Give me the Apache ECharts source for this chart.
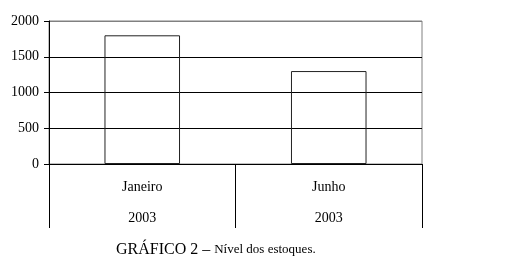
<!DOCTYPE html>
<html>
<head>
<meta charset="utf-8">
<script src="https://cdn.jsdelivr.net/npm/echarts@6/dist/echarts.min.js"></script>
<style>
html,body{margin:0;padding:0;background:#fff;}
#chart{width:515px;height:263px;}
</style>
</head>
<body>
<div id="chart"></div>
<script>
var months = ['Janeiro', 'Junho'];
var years = ['2003', '2003'];
var stockLevels = [1800, 1300];
var yMin = 0, yMax = 2000, yStep = 500;
var captionMain = 'GRÁFICO 2 – ';
var captionSub = 'Nível dos estoques.';

var serif = 'Liberation Serif, Times New Roman, serif';
var chart = echarts.init(document.getElementById('chart'), null, {renderer: 'canvas'});
var categories = months.map(function (m, i) { return m + '\n' + years[i]; });

chart.setOption({
  animation: false,
  backgroundColor: '#fff',
  title: {
    left: 116,
    top: 240,
    padding: 0,
    text: '{a|' + captionMain + '}{b|' + captionSub + '}',
    textStyle: {
      fontWeight: 'normal',
      rich: {
        a: {fontFamily: serif, fontSize: 16, fontWeight: 'normal', color: '#000', lineHeight: 20},
        b: {fontFamily: serif, fontSize: 13, fontWeight: 'normal', color: '#000', lineHeight: 20}
      }
    }
  },
  grid: {
    left: 49, right: 93, top: 21, bottom: 99,
    show: true, borderColor: '#808080', borderWidth: 1, backgroundColor: 'transparent'
  },
  xAxis: {
    type: 'category',
    data: categories,
    boundaryGap: true,
    axisLine: {show: true, lineStyle: {color: '#000', width: 1}},
    axisTick: {show: true, inside: false, length: 64, alignWithLabel: false, lineStyle: {color: '#000', width: 1}},
    axisLabel: {
      show: true, margin: 8, color: '#000', fontFamily: serif, fontSize: 14, lineHeight: 31
    },
    splitLine: {show: false}
  },
  yAxis: {
    type: 'value',
    min: yMin, max: yMax, interval: yStep,
    axisLine: {show: true, lineStyle: {color: '#000', width: 1}},
    axisTick: {show: true, inside: false, length: 5, lineStyle: {color: '#000', width: 1}},
    axisLabel: {
      show: true, margin: 10, color: '#000', fontFamily: serif, fontSize: 14,
      formatter: function (v) { return String(v); }
    },
    splitLine: {show: true, lineStyle: {color: ['#000', '#000', '#000', '#000', '#808080'], width: 1}}
  },
  series: [{
    type: 'bar',
    data: stockLevels,
    barWidth: '40.5%',
    itemStyle: {color: 'rgba(255,255,255,0)', borderColor: '#222', borderWidth: 1},
    z: 1
  }]
});
</script>
</body>
</html>
